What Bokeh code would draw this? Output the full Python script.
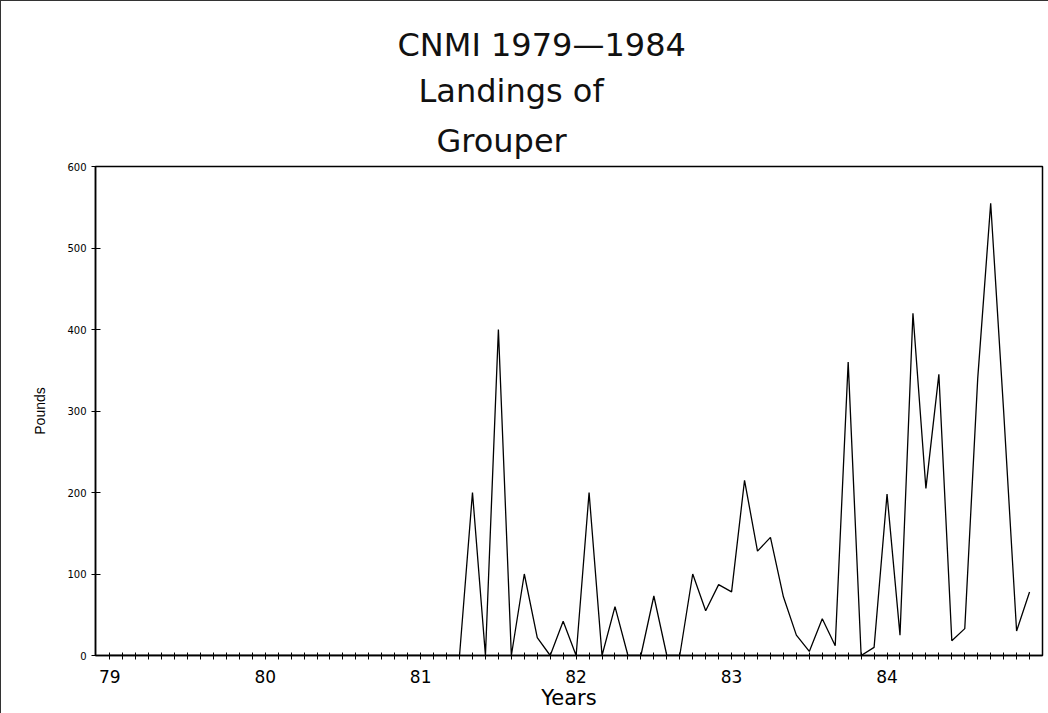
from bokeh.plotting import figure
from bokeh.models import Range1d, FixedTicker, Title
from bokeh.embed import file_html
from bokeh.resources import INLINE

# Monthly landings, Jan 1979 .. Dec 1984 (month index 0..71)
months = list(range(72))
pounds = [0] * 28 + [
    200, 0, 400, 0, 100, 22, 0, 42,          # 81: May..Dec
    0, 200, 0, 60, 0, 0, 73, 0, 0, 100, 55, 87,   # 82
    78, 215, 128, 145, 72, 25, 5, 45, 12, 360, 0, 10,  # 83
    198, 25, 420, 205, 345, 18, 33, 340, 555, 300, 30, 78,  # 84
]
year_labels = ["79", "80", "81", "82", "83", "84"]
y_ticks = [0, 100, 200, 300, 400, 500, 600]

FONT = "DejaVu Sans"

p = figure(width=1048, height=713, output_backend="svg", toolbar_location=None,
           x_range=Range1d(-1.1, 72.0), y_range=Range1d(0, 600),
           min_border_left=94, min_border_right=7, min_border_top=165,
           min_border_bottom=59)
p.styles = {"border-top": "1px solid #333", "border-left": "1px solid #333"}

p.line(months, pounds, line_color="black", line_width=1.3)

p.grid.visible = False
p.outline_line_color = "black"
p.outline_line_width = 1.5
p.background_fill_color = "white"
p.border_fill_color = "white"

# x axis
xa = p.xaxis[0]
xa.ticker = FixedTicker(ticks=months)
overrides = {m: "" for m in months}
for i, lab in enumerate(year_labels):
    overrides[i * 12] = lab
xa.major_label_overrides = overrides
xa.major_tick_in = 3
xa.major_tick_out = 4
xa.minor_tick_line_color = None
xa.axis_line_width = 1.5
xa.axis_line_color = "black"
xa.major_tick_line_color = "black"
xa.major_label_text_font = FONT
xa.major_label_text_font_size = "17px"
xa.major_label_text_color = "black"
xa.major_label_standoff = 10
xa.axis_label = "Years"
xa.axis_label_text_font = FONT
xa.axis_label_text_font_size = "21px"
xa.axis_label_text_font_style = "normal"
xa.axis_label_text_color = "black"
xa.axis_label_standoff = 0

# y axis
ya = p.yaxis[0]
ya.ticker = FixedTicker(ticks=y_ticks)
ya.major_tick_in = 5
ya.major_tick_out = 4
ya.minor_tick_line_color = None
ya.axis_line_width = 1.5
ya.axis_line_color = "black"
ya.major_tick_line_color = "black"
ya.major_label_text_font = FONT
ya.major_label_text_font_size = "10px"
ya.major_label_text_color = "black"
ya.major_label_standoff = 5
ya.axis_label = "Pounds"
ya.axis_label_text_font = "Liberation Sans"
ya.axis_label_text_font_size = "14px"
ya.axis_label_text_font_style = "normal"
ya.axis_label_text_color = "black"
ya.axis_label_standoff = 16

# titles (innermost first)
for text, off, so in [("Grouper", 341, 14), ("Landings of", 323, 6),
                      ("CNMI 1979\u20141984", 302, 6)]:
    p.add_layout(Title(text=text, align="left", offset=off, text_font=FONT,
                       text_font_size="32px", text_font_style="normal",
                       text_color="#111", standoff=so), "above")

open("out.html", "w").write(file_html(p, INLINE))
